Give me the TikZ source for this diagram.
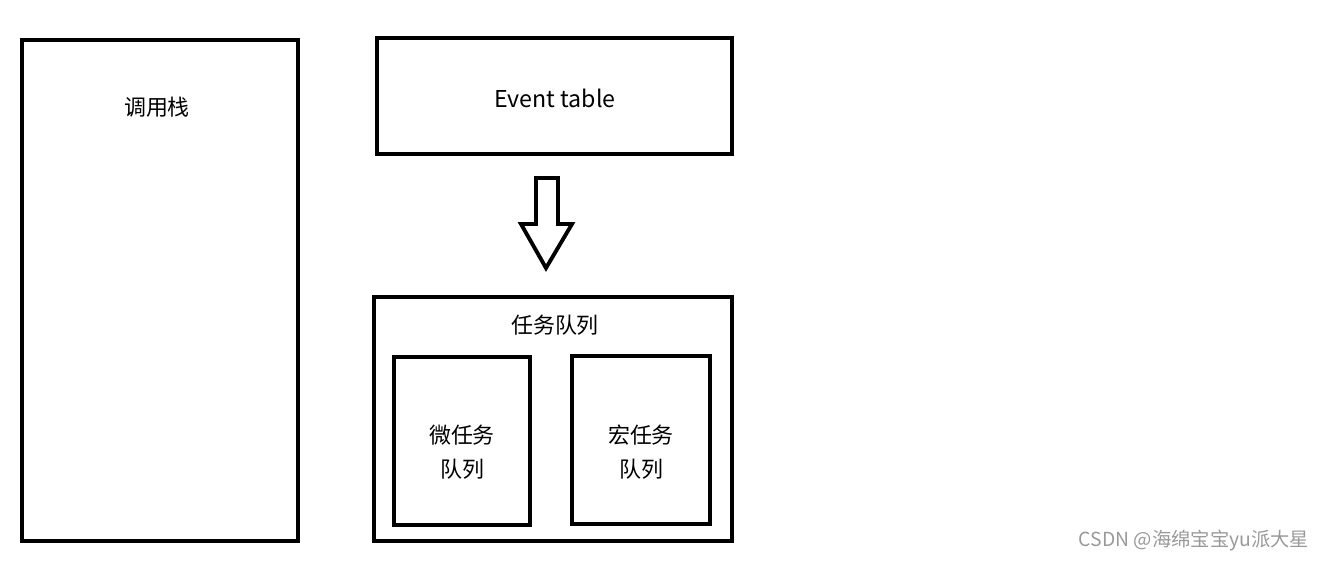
\documentclass[tikz,border=0pt]{standalone}
\usepackage{fontspec}
\setmainfont{Noto Sans CJK SC}
\usetikzlibrary{positioning}

\begin{document}
\begin{tikzpicture}[
        box/.style={draw, line width=2.2pt, inner sep=0pt},
        lbl/.style={font=\fontsize{12.5}{19}\selectfont, align=center},
        hollow/.style={draw, line width=2.2pt, line join=miter, fill=white}
      ]
      \useasboundingbox (0,0) rectangle (26.5,11.22);

      % Call stack
      \node[box, minimum width=5.52cm, minimum height=10.02cm] (stack) at (3.2,5.41) {};
      \node[lbl] (stacklbl) at (3.14,9.08) {调用栈};

      % Event table
      \node[box, minimum width=7.1cm, minimum height=2.32cm] (evt) at (11.09,9.3) {};
      \node[lbl, font=\fontsize{13.2}{15}\selectfont] (evtlbl) at (11.1,9.26) {Event table};

      % Down arrow
      \draw[hollow] (10.72,7.66) -- (11.16,7.66) -- (11.16,6.74) -- (11.44,6.74)
        -- (10.92,5.86) -- (10.42,6.74) -- (10.72,6.74) -- cycle;

      % Task queue
      \node[box, minimum width=7.16cm, minimum height=4.88cm] (queue) at (11.06,2.84) {};
      \node[lbl] (queuelbl) at (11.1,4.72) {任务队列};
      \node[box, minimum width=2.72cm, minimum height=3.36cm] (micro) at (9.24,2.4) {};
      \node[box, minimum width=2.76cm, minimum height=3.36cm] (macro) at (12.82,2.42) {};
      \node[lbl] (microlbl) at (9.24,2.18) {微任务\\队列};
      \node[lbl] (macrolbl) at (12.82,2.18) {宏任务\\队列};

      % Watermark
      \node[font=\fontsize{11}{13}\selectfont, text=black!40] (mark) at (23.88,0.4) {CSDN @海绵宝宝yu派大星};
\end{tikzpicture}
\end{document}
